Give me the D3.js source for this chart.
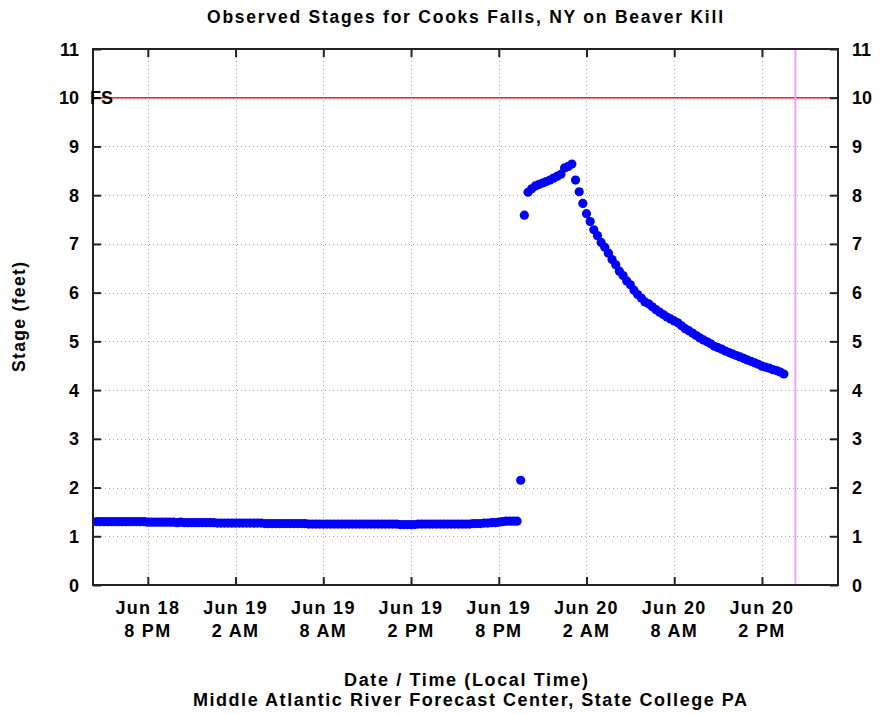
<!DOCTYPE html>
<html>
<head>
<meta charset="utf-8">
<script src="https://cdn.jsdelivr.net/npm/d3@7"></script>
<style>
  html, body { margin: 0; padding: 0; background: #fff; }
  svg { display: block; }
  text { font-family: "Liberation Sans", Arial, sans-serif; font-weight: bold; fill: #000; }
</style>
</head>
<body>
<svg id="chart" width="881" height="715"></svg>
<script>
// Observed stage, Cooks Falls NY (Beaver Kill), 15-minute readings
const firstReading = "2023-06-18T16:30:00";
const readingStepMinutes = 15;

// Jun 18 16:30 -> Jun 19 21:15 (base flow)
const baseFlow = [
  1.30, 1.30, 1.30, 1.30, 1.30, 1.30, 1.30, 1.30, 1.30, 1.30, 1.30, 1.30, 1.30, 1.30,
  1.29, 1.29, 1.29, 1.29, 1.29, 1.29, 1.29, 1.29, 1.28, 1.29, 1.28, 1.28, 1.28, 1.28, 1.28, 1.28,
  1.28, 1.28, 1.28, 1.27, 1.27, 1.27, 1.27, 1.27, 1.27, 1.27, 1.27, 1.27,
  1.27, 1.27, 1.27, 1.27, 1.26, 1.26, 1.26, 1.26, 1.26, 1.26, 1.26, 1.26,
  1.26, 1.26, 1.26, 1.26, 1.25, 1.25, 1.25, 1.25, 1.25, 1.25, 1.25, 1.25,
  1.25, 1.25, 1.25, 1.25, 1.25, 1.25, 1.25, 1.25, 1.25, 1.25, 1.25, 1.25,
  1.25, 1.25, 1.25, 1.25, 1.25, 1.24, 1.24, 1.24, 1.24, 1.24, 1.25, 1.25,
  1.25, 1.25, 1.25, 1.25, 1.25, 1.25, 1.25, 1.25, 1.25, 1.25, 1.25, 1.25,
  1.25, 1.26, 1.26, 1.26, 1.27, 1.27, 1.28, 1.28,
  1.29, 1.30, 1.31, 1.31, 1.31, 1.31
];
// Jun 19 21:30 -> Jun 20 01:00 (sharp rise to crest)
const risingLimb = [
  2.15, 7.59,
  8.06, 8.13, 8.19, 8.22, 8.25, 8.28, 8.31, 8.35, 8.39, 8.43, 8.56, 8.59, 8.64
];
// Jun 20 01:15 -> Jun 20 15:30 (recession)
const fallingLimb = [
  8.31, 8.07, 7.83, 7.62, 7.46, 7.29, 7.17, 7.03, 6.93,
  6.81, 6.68, 6.57, 6.44, 6.35, 6.24, 6.16, 6.05, 5.96, 5.89, 5.81,
  5.77, 5.71, 5.65, 5.60, 5.55, 5.50, 5.46, 5.42,
  5.38, 5.32, 5.26, 5.22, 5.17, 5.12, 5.07, 5.03,
  4.99, 4.95, 4.90, 4.87, 4.84, 4.80, 4.77, 4.74,
  4.71, 4.68, 4.65, 4.62, 4.59, 4.56, 4.53, 4.49,
  4.47, 4.45, 4.42, 4.40, 4.37, 4.33
];

const floodStage = 10;
const floodStageLabel = "FS";
const currentTime = "2023-06-20T16:17:00";
const timeDomain = ["2023-06-18T16:15:00", "2023-06-20T19:12:00"];
const stageTicks = [0, 1, 2, 3, 4, 5, 6, 7, 8, 9, 10, 11];
const timeTicks = [
  "2023-06-18T20:00:00", "2023-06-19T02:00:00", "2023-06-19T08:00:00",
  "2023-06-19T14:00:00", "2023-06-19T20:00:00", "2023-06-20T02:00:00",
  "2023-06-20T08:00:00", "2023-06-20T14:00:00"
];
const titleText = "Observed Stages for Cooks Falls, NY on Beaver Kill";
const yTitleText = "Stage (feet)";
const xTitleText = "Date / Time (Local Time)";
const creditText = "Middle Atlantic River Forecast Center, State College PA";

const parse = d3.isoParse;
const stages = baseFlow.concat(risingLimb, fallingLimb);
const t0 = parse(firstReading);
const readings = stages.map((v, i) => ({ t: d3.timeMinute.offset(t0, i * readingStepMinutes), v }));

const plot = { left: 93, right: 838, top: 49, bottom: 585 };
const svg = d3.select("#chart");

const x = d3.scaleTime().domain(timeDomain.map(parse)).range([plot.left, plot.right]);
const y = d3.scaleLinear().domain([0, 11]).range([plot.bottom, plot.top]);

// dotted grid
const grid = svg.append("g").attr("stroke", "#a8a8a8").attr("stroke-width", 1)
  .attr("stroke-dasharray", "1,3").attr("fill", "none");
grid.selectAll("line.h").data(stageTicks.filter(d => d > 0 && d < 11)).join("line")
  .attr("class", "h")
  .attr("x1", plot.left).attr("x2", plot.right)
  .attr("y1", d => Math.round(y(d)) + 0.5).attr("y2", d => Math.round(y(d)) + 0.5);
grid.selectAll("line.v").data(timeTicks.map(parse)).join("line")
  .attr("class", "v")
  .attr("x1", d => Math.round(x(d)) + 0.5).attr("x2", d => Math.round(x(d)) + 0.5)
  .attr("y1", plot.top).attr("y2", plot.bottom);

// flood stage line
svg.append("line")
  .attr("x1", plot.left).attr("x2", plot.right)
  .attr("y1", y(floodStage)).attr("y2", y(floodStage))
  .attr("stroke", "#ff2020").attr("stroke-width", 1.5);

// current time marker
svg.append("line")
  .attr("x1", x(parse(currentTime))).attr("x2", x(parse(currentTime)))
  .attr("y1", plot.top).attr("y2", plot.bottom)
  .attr("stroke", "#f8a0f8").attr("stroke-width", 2);

// observations
svg.append("g").attr("fill", "#0000ff")
  .selectAll("circle").data(readings).join("circle")
  .attr("cx", d => x(d.t)).attr("cy", d => y(d.v)).attr("r", 4.6);

// frame
svg.append("rect")
  .attr("x", plot.left).attr("y", plot.top)
  .attr("width", plot.right - plot.left).attr("height", plot.bottom - plot.top)
  .attr("fill", "none").attr("stroke", "#222").attr("stroke-width", 2);

// axes with inward ticks
const tickLen = 8;
const fmtDay = d3.timeFormat("%b %d");
const fmtHour = d3.timeFormat("%-I %p");

const bottomAxis = svg.append("g").attr("transform", `translate(0,${plot.bottom})`)
  .call(d3.axisBottom(x).tickValues(timeTicks.map(parse)).tickSizeInner(-tickLen).tickSizeOuter(0).tickFormat(""));
const topAxis = svg.append("g").attr("transform", `translate(0,${plot.top})`)
  .call(d3.axisTop(x).tickValues(timeTicks.map(parse)).tickSizeInner(-tickLen).tickSizeOuter(0).tickFormat(""));
const leftAxis = svg.append("g").attr("transform", `translate(${plot.left},0)`)
  .call(d3.axisLeft(y).tickValues(stageTicks).tickSizeInner(-tickLen).tickSizeOuter(0).tickFormat(""));
const rightAxis = svg.append("g").attr("transform", `translate(${plot.right},0)`)
  .call(d3.axisRight(y).tickValues(stageTicks).tickSizeInner(-tickLen).tickSizeOuter(0).tickFormat(""));
[bottomAxis, topAxis, leftAxis, rightAxis].forEach(g => {
  g.select(".domain").remove();
  g.selectAll(".tick line").attr("stroke", "#222").attr("stroke-width", 2);
});

// y tick labels, both sides
const yLabels = svg.append("g").attr("font-size", 18);
yLabels.selectAll("text.l").data(stageTicks).join("text").attr("class", "l")
  .attr("x", 79).attr("y", d => y(d) + 6.5).attr("text-anchor", "end").text(d => d);
yLabels.selectAll("text.r").data(stageTicks).join("text").attr("class", "r")
  .attr("x", 852).attr("y", d => y(d) + 6.5).attr("text-anchor", "start").text(d => d);
svg.append("text").attr("font-size", 18).attr("x", 90).attr("y", y(floodStage) + 6.5)
  .text(floodStageLabel);

// x tick labels, two lines
const xLabels = svg.append("g").attr("font-size", 18).attr("text-anchor", "middle");
const xl = xLabels.selectAll("g").data(timeTicks.map(parse)).join("g");
xl.append("text").attr("x", d => x(d)).attr("y", 614).attr("letter-spacing", 1.3).text(d => fmtDay(d));
xl.append("text").attr("x", d => x(d)).attr("y", 637).attr("letter-spacing", 1.3).text(d => fmtHour(d));

// titles
svg.append("text").attr("x", 465).attr("y", 23).attr("text-anchor", "middle")
  .attr("font-size", 17.5).attr("textLength", 516).attr("lengthAdjust", "spacing").text(titleText);
svg.append("text").attr("transform", "translate(25,317) rotate(-90)").attr("text-anchor", "middle")
  .attr("font-size", 17.5).attr("textLength", 110).attr("lengthAdjust", "spacing").text(yTitleText);
svg.append("text").attr("x", 466).attr("y", 686).attr("text-anchor", "middle")
  .attr("font-size", 18).attr("textLength", 244).attr("lengthAdjust", "spacing").text(xTitleText);
svg.append("text").attr("x", 470).attr("y", 706).attr("text-anchor", "middle")
  .attr("font-size", 18).attr("textLength", 554).attr("lengthAdjust", "spacing").text(creditText);
</script>
</body>
</html>
